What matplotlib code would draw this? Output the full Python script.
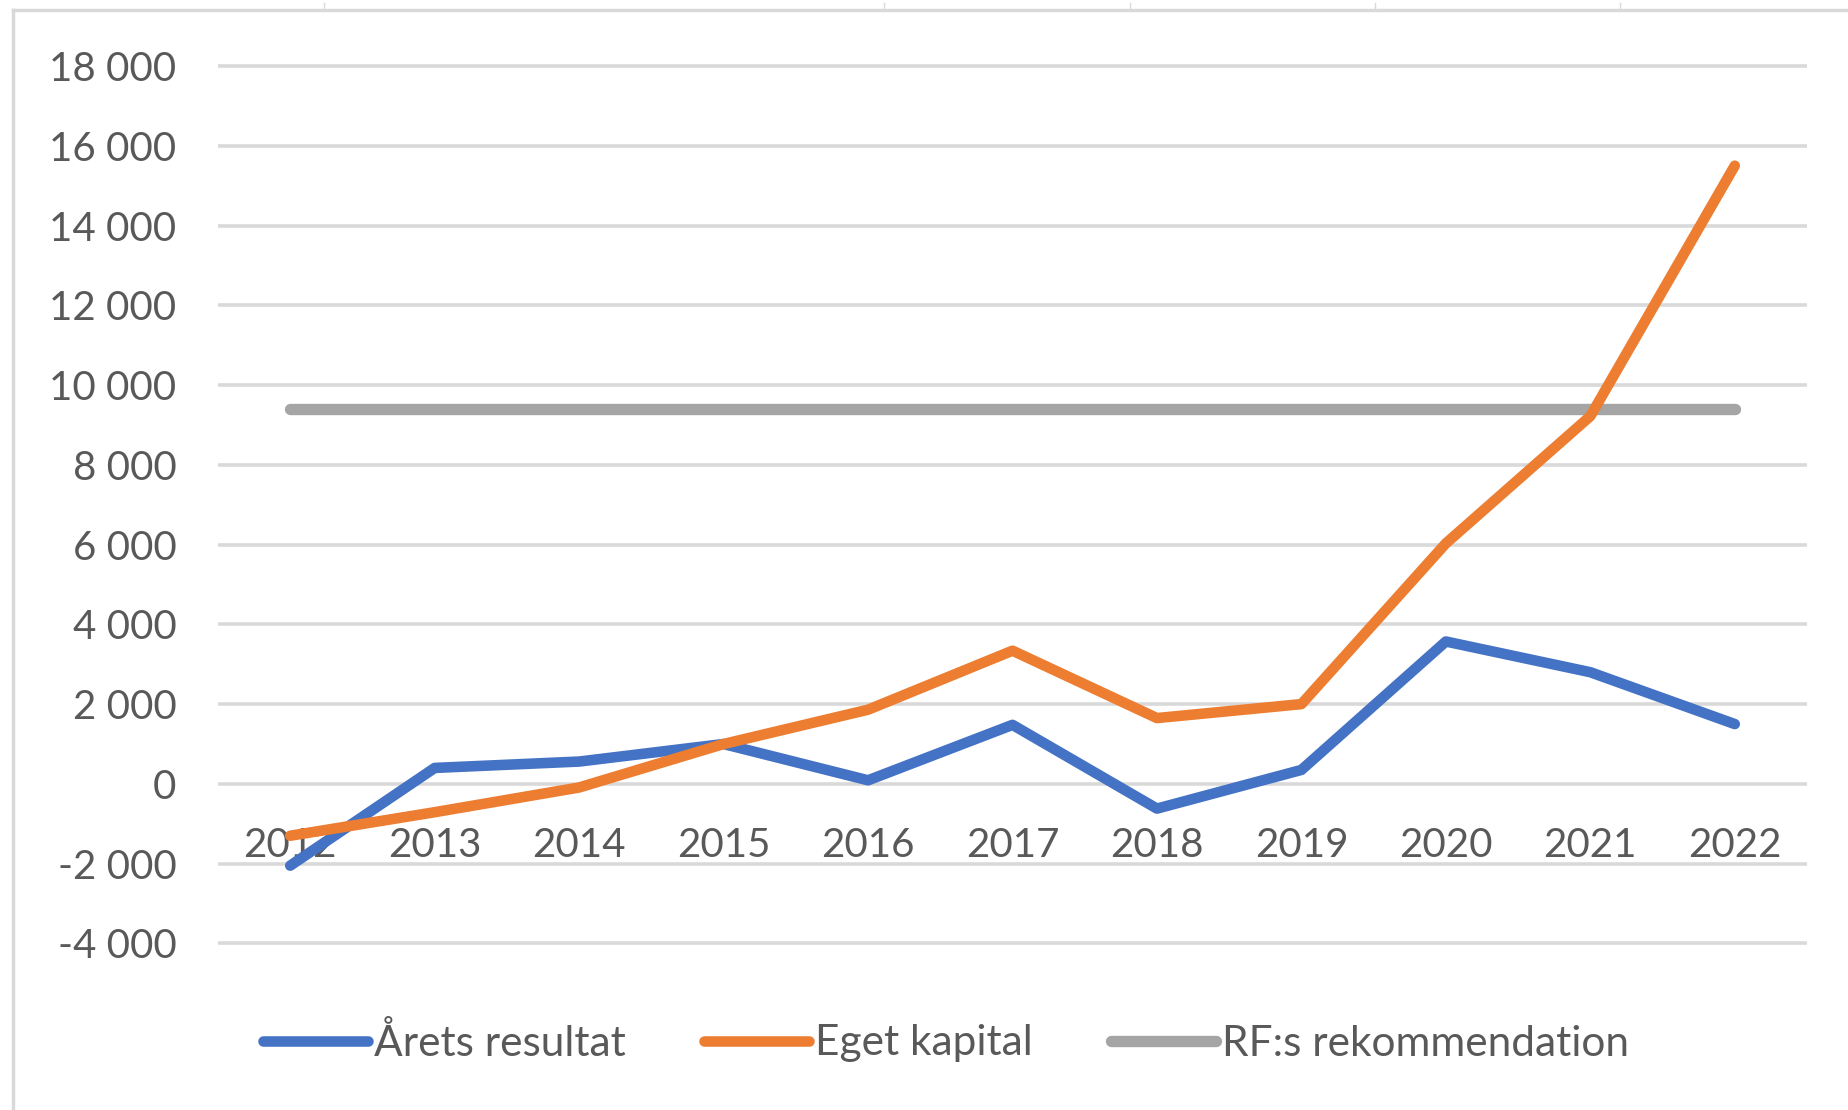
import matplotlib
matplotlib.use("Agg")
import matplotlib.pyplot as plt
from matplotlib.lines import Line2D
from matplotlib.ticker import FuncFormatter, MultipleLocator

years = ["2012", "2013", "2014", "2015", "2016", "2017", "2018", "2019", "2020", "2021", "2022"]
arets_resultat = [-2050, 400, 560, 1000, 90, 1480, -620, 350, 3570, 2800, 1500]
eget_kapital = [-1300, -710, -90, 1000, 1860, 3340, 1650, 2000, 6030, 9220, 15500]
rf_rekommendation = [9400, 9400, 9400, 9400, 9400, 9400, 9400, 9400, 9400, 9400, 9400]
series_names = ["Årets resultat", "Eget kapital", "RF:s rekommendation"]
colors = ["#4472C4", "#ED7D31", "#A5A5A5"]

plt.rcParams['font.family'] = ['Lato', 'DejaVu Sans']
TXT = "#595959"
FS = 29
LFS = 30.5

W, H = 1849, 1110
fig = plt.figure(figsize=(W / 100, H / 100), dpi=100)
left, right = 218 / W, 1807 / W
top_px, bot_px = 58.0, 951.4
ax = fig.add_axes([left, 1 - bot_px / H, right - left, (bot_px - top_px) / H])

x = list(range(len(years)))
widths = [7.6, 7.6, 8.2]
for vals, name, c, lw in zip([arets_resultat, eget_kapital, rf_rekommendation], series_names, colors, widths):
    ax.plot(x, vals, color=c, lw=lw, solid_capstyle="round", solid_joinstyle="round",
            label=name, zorder=3 if c != "#A5A5A5" else 2)

ax.set_xlim(-0.5, len(years) - 0.5)
ax.set_ylim(-4200, 18200)
ax.yaxis.set_major_locator(MultipleLocator(2000))
ax.yaxis.set_major_formatter(FuncFormatter(lambda v, p: f"{v:,.0f}".replace(",", " ")))
ax.grid(axis="y", color="#D9D9D9", lw=2.6, zorder=0)
ax.grid(axis="x", visible=False)
ax.set_axisbelow(True)
for s in ax.spines.values():
    s.set_visible(False)
ax.spines['bottom'].set_position(('data', 0))
ax.set_xticks(x)
ax.set_xticklabels(years)
ax.tick_params(axis="both", length=0, labelsize=FS, labelcolor=TXT)
ax.tick_params(axis="y", pad=30)
ax.tick_params(axis="x", pad=31)

handles = [Line2D([0], [0], color=c, lw=lw, solid_capstyle="round") for c, lw in zip(colors, widths)]
fig.legend(handles, series_names, loc="center", bbox_to_anchor=(0.5116, 1 - 1042.5 / H),
           ncol=3, frameon=False, fontsize=LFS, labelcolor=TXT, handlelength=2.48,
           handletextpad=0.14, columnspacing=1.84)

# outer chart frame (cropped)
fc = "#D9D9D9"
fig.add_artist(Line2D([13 / W, 1.0], [1 - 10 / H, 1 - 10 / H], color=fc, lw=2.5, transform=fig.transFigure))
fig.add_artist(Line2D([13 / W, 13 / W], [0.0, 1 - 10 / H], color=fc, lw=2.5, transform=fig.transFigure))
for tx in [324, 884, 1130, 1375, 1620]:
    fig.add_artist(Line2D([tx / W, tx / W], [1 - 10 / H, 1 - 3 / H], color=fc, lw=1.0, transform=fig.transFigure))

fig.savefig("out.png", dpi=100, facecolor="white")
